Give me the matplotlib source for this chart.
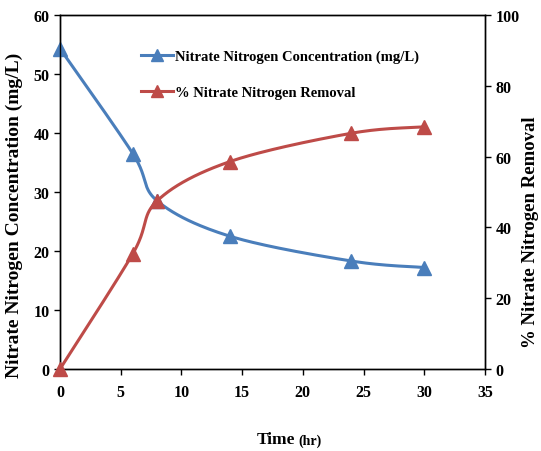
import numpy as np
import matplotlib
matplotlib.use("Agg")
import matplotlib.pyplot as plt
from matplotlib.lines import Line2D

time_hr = [0, 6, 8, 14, 24, 30]
conc_mgL = [54.3, 36.5, 28.5, 22.5, 18.3, 17.2]
removal_pct = [0.0, 32.6, 47.5, 58.6, 66.6, 68.4]
x_ticks = [0, 5, 10, 15, 20, 25, 30, 35]
yl_ticks = [0, 10, 20, 30, 40, 50, 60]
yr_ticks = [0, 20, 40, 60, 80, 100]

plt.rcParams['font.family'] = ['Liberation Serif', 'DejaVu Serif']
plt.rcParams['font.weight'] = 'bold'

BLUE = '#4A7EBB'
RED = '#BE4B48'


def smooth(x, y, n=40, t=0.5):
    # Excel-like smoothed line (cardinal Bezier through points)
    x = np.asarray(x, float); y = np.asarray(y, float)
    xs, ys = [], []
    m = len(x)
    for i in range(m - 1):
        p0 = np.array([x[max(i - 1, 0)], y[max(i - 1, 0)]])
        p1 = np.array([x[i], y[i]])
        p2 = np.array([x[i + 1], y[i + 1]])
        p3 = np.array([x[min(i + 2, m - 1)], y[min(i + 2, m - 1)]])
        c1 = p1 + (p2 - p0) * t / 3
        c2 = p2 - (p3 - p1) * t / 3
        s = np.linspace(0, 1, n)
        pts = ((1 - s) ** 3)[:, None] * p1 + (3 * (1 - s) ** 2 * s)[:, None] * c1 \
            + (3 * (1 - s) * s ** 2)[:, None] * c2 + (s ** 3)[:, None] * p2
        xs.extend(pts[:, 0]); ys.extend(pts[:, 1])
    return np.array(xs), np.array(ys)


fig = plt.figure(figsize=(5.41, 4.52), dpi=100)
ax = fig.add_axes([60 / 541, 1 - 370 / 452, 425 / 541, 354 / 452])
ax2 = ax.twinx()

sx, sy = smooth(time_hr, conc_mgL)
ax.plot(sx, sy, color=BLUE, lw=2.2, zorder=3, clip_on=False)
ax.plot(time_hr, conc_mgL, ls='none', marker='^', ms=10, color=BLUE, zorder=4, clip_on=False)

rx, ry = smooth(time_hr, removal_pct)
ax2.plot(rx, ry, color=RED, lw=2.2, zorder=3, clip_on=False)
ax2.plot(time_hr, removal_pct, ls='none', marker='^', ms=10, color=RED, zorder=4, clip_on=False)

ax.set_xlim(0, 35)
ax.set_ylim(0, 60)
ax2.set_ylim(0, 100)
ax.set_xticks(x_ticks)
ax.set_yticks(yl_ticks)
ax2.set_yticks(yr_ticks)

for a in (ax, ax2):
    a.tick_params(direction='out', length=4, width=1, labelsize=11.5, colors='black')
    for sp in a.spines.values():
        sp.set_linewidth(1)
    for lab in a.get_xticklabels() + a.get_yticklabels():
        lab.set_fontweight('bold')
ax.tick_params(axis='x', pad=7)

ax.set_ylabel('Nitrate Nitrogen Concentration (mg/L)', fontsize=14, fontweight='bold')
ax.yaxis.set_label_coords(-0.087, 0.438)
ax2.set_ylabel('% Nitrate Nitrogen Removal', fontsize=13.5, fontweight='bold')
ax2.yaxis.set_label_coords(1.088, 0.39)

fig.text(295 / 541, 1 - 440 / 452, 'Time', fontsize=12.5, fontweight='bold',
         ha='right', va='center')
fig.text(298 / 541, 1 - 441 / 452, '(hr)', fontsize=10, fontweight='bold',
         ha='left', va='center')

handles = [Line2D([0], [0], color=BLUE, lw=2.2, marker='^', ms=9),
           Line2D([0], [0], color=RED, lw=2.2, marker='^', ms=9)]
ax.legend(handles, ['Nitrate Nitrogen Concentration (mg/L)', '% Nitrate Nitrogen Removal'],
          loc='upper left', bbox_to_anchor=(0.16, 0.94), frameon=False,
          handlelength=2.2, labelspacing=1.6, handletextpad=0.1,
          prop={'weight': 'bold', 'size': 10.5})

fig.savefig('out.png', dpi=100)
